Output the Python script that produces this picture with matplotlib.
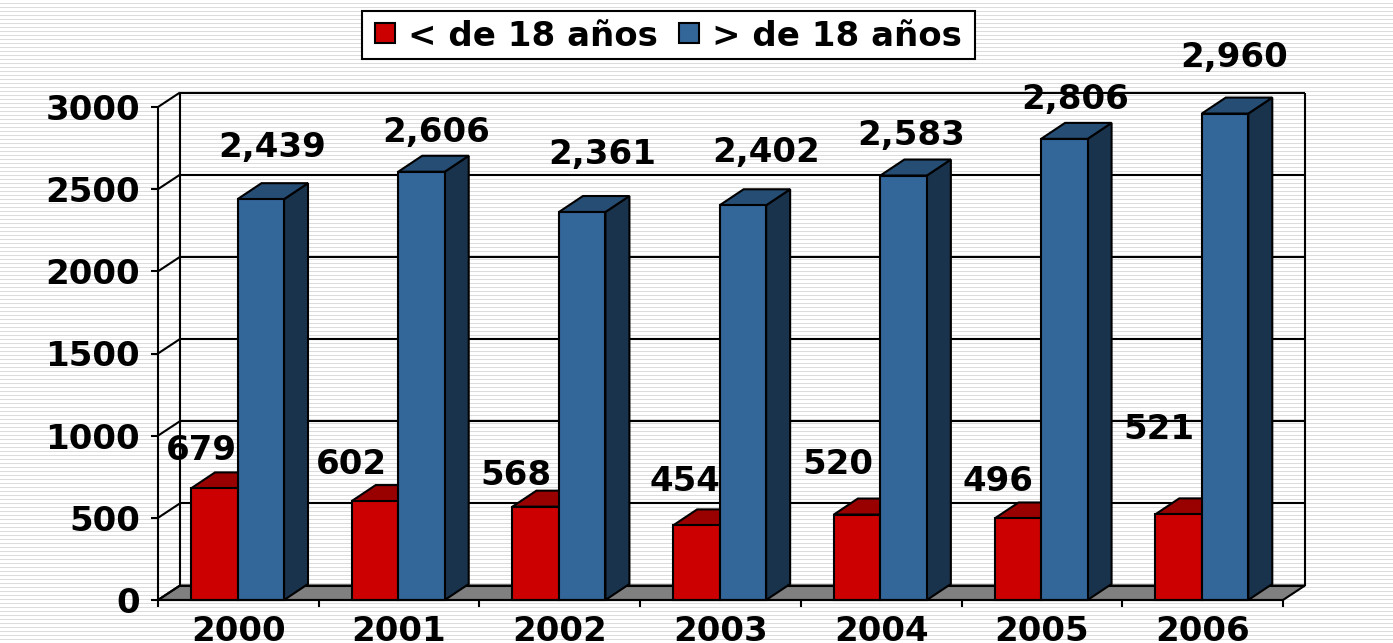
import numpy as np
import matplotlib
matplotlib.use("Agg")
import matplotlib.pyplot as plt
from matplotlib.patches import Polygon, Patch, Rectangle

W, H = 1393, 643

years = ["2000", "2001", "2002", "2003", "2004", "2005", "2006"]
menores = [679, 602, 568, 454, 520, 496, 521]
mayores = [2439, 2606, 2361, 2402, 2583, 2806, 2960]
yticks = [0, 500, 1000, 1500, 2000, 2500, 3000]

# label offsets from the top of the bar, in pixels
red_off = [(-13, 38), (-24, 37), (-20, 31), (-11, 44), (-19, 50), (-20, 37), (-20, 85)]
blue_off = [(11, 52), (15, 39), (20, 58), (23, 53), (8, 40), (11, 39), (9, 56)]

RED, RED_TOP = "#cc0000", "#990000"
BLUE, BLUE_TOP, BLUE_SIDE = "#336699", "#264d73", "#1a334d"
FLOOR = "#808080"
LW = 1.5
FS = 24.5

plt.rcParams["font.family"] = "DejaVu Sans"
plt.rcParams["font.weight"] = "bold"

fig = plt.figure(figsize=(W / 100, H / 100), dpi=100, facecolor="white")

# striped slide background
bg = fig.add_axes([0, 0, 1, 1], zorder=0)
bg.set_xlim(0, W); bg.set_ylim(H, 0); bg.axis("off")
bg.hlines(np.arange(2.5, H, 4.0), 0, W, color="#dcdcdc", lw=0.72, antialiased=False)
# legend box, drawn by hand because the legend frame comes out too tall
bg.add_patch(Rectangle((362, 11), 613, 48, fc="white", ec="black", lw=LW, zorder=3))

# front plane of the 3d box
L, R, B, T = 158, 1283, 600, 107
ax = fig.add_axes([L / W, 1 - B / H, (R - L) / W, (B - T) / H], zorder=1)
ax.set_xlim(0, 7); ax.set_ylim(0, 3000)
ax.patch.set_alpha(0)
for s in ax.spines.values():
    s.set_visible(False)

px = 7 / (R - L)
py = 3000 / (B - T)
wall_dx, wall_dy = 22 * px, 14.5 * py
bar_dx, bar_dy = 24 * px, 16 * py
bw = 46.5 * px
gap = 33 * px


def poly(pts, fc, z):
    ax.add_patch(Polygon(pts, closed=True, fc=fc, ec="black", lw=LW, zorder=z,
                         clip_on=False, joinstyle="miter"))


def line(xs, ys, z=1):
    ax.plot(xs, ys, color="black", lw=LW, zorder=z, clip_on=False, solid_capstyle="butt")


# floor and walls
poly([(0, 0), (7, 0), (7 + wall_dx, wall_dy), (wall_dx, wall_dy)], FLOOR, 1)
for v in yticks:
    line([0, wall_dx], [v, v + wall_dy])
    line([wall_dx, 7 + wall_dx], [v + wall_dy, v + wall_dy])
line([0, 0], [0, 3000], 6)
line([wall_dx, wall_dx], [wall_dy, 3000 + wall_dy])
line([7 + wall_dx, 7 + wall_dx], [wall_dy, 3000 + wall_dy])


def bar3d(x, v, front, top, side, z):
    poly([(x + bw, 0), (x + bw + bar_dx, bar_dy), (x + bw + bar_dx, v + bar_dy), (x + bw, v)], side, z)
    poly([(x, v), (x + bw, v), (x + bw + bar_dx, v + bar_dy), (x + bar_dx, v + bar_dy)], top, z)
    poly([(x, 0), (x + bw, 0), (x + bw, v), (x, v)], front, z)


for i in range(len(years)):
    bar3d(i + gap, menores[i], RED, RED_TOP, RED_TOP, 3)
    bar3d(i + gap + bw, mayores[i], BLUE, BLUE_TOP, BLUE_SIDE, 4)
    ax.annotate(str(menores[i]), (i + gap + bw / 2, menores[i]),
                xytext=red_off[i], textcoords="offset pixels", ha="center", va="center",
                fontsize=FS, zorder=5, annotation_clip=False)
    ax.annotate(f"{mayores[i]:,}", (i + gap + 1.5 * bw, mayores[i]),
                xytext=blue_off[i], textcoords="offset pixels", ha="center", va="center",
                fontsize=FS, zorder=5, annotation_clip=False)

ax.set_yticks(yticks)
ax.set_xticks(np.arange(8))
ax.set_xticks(np.arange(7) + 0.5, labels=years, minor=True)
ax.set_xticklabels([])
ax.tick_params(axis="x", which="major", length=5, width=LW, color="black")
ax.tick_params(axis="x", which="minor", length=0, pad=11, labelsize=FS)
ax.tick_params(axis="y", length=5, width=LW, pad=8, labelsize=FS)
line([0, 7], [0, 0], 6)

fig.legend(handles=[Patch(fc=RED, ec="black", lw=LW, label="< de 18 años"),
                    Patch(fc=BLUE, ec="black", lw=LW, label="> de 18 años")],
           ncol=2, loc="center", bbox_to_anchor=(668.5 / W, 1 - 36 / H),
           fontsize=FS, frameon=False,
           handlelength=0.6, handleheight=0.53, handletextpad=0.38, columnspacing=0.6,
           borderpad=0.28, borderaxespad=0)

fig.savefig("out.png", dpi=100)
